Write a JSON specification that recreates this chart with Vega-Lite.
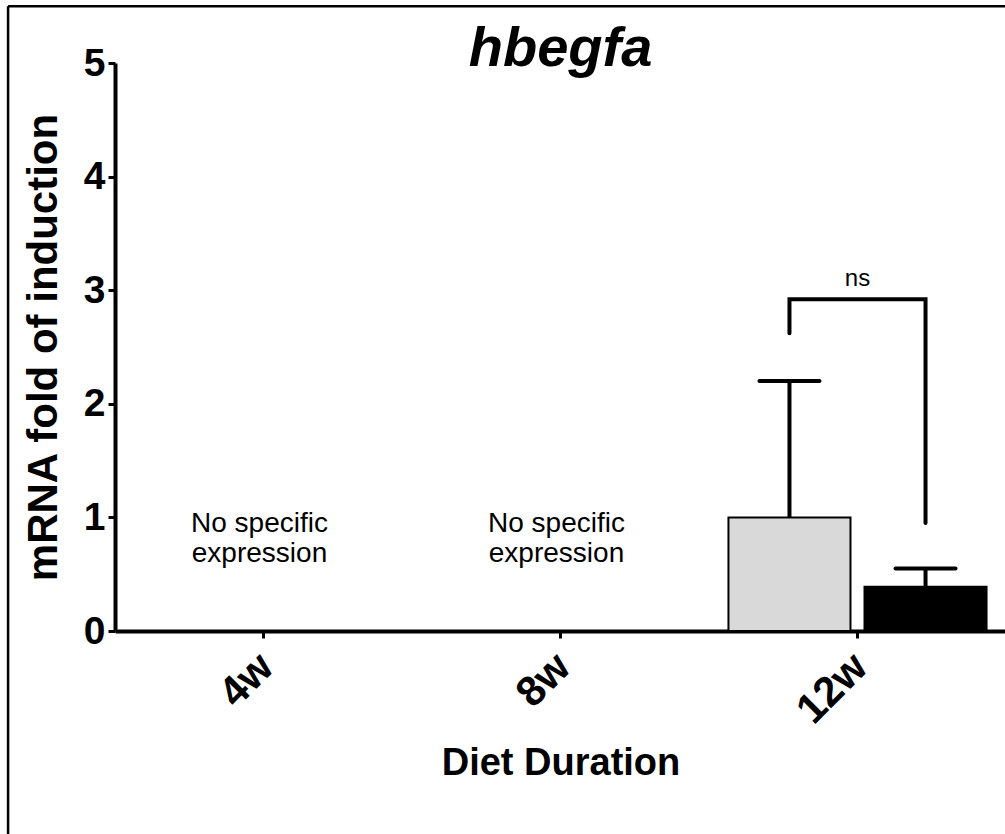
{
  "$schema": "https://vega.github.io/schema/vega-lite/v6.json",
  "autosize": "none",
  "width": 891,
  "height": 568,
  "padding": {"left": 115, "top": 63, "right": 0, "bottom": 203},
  "background": "white",
  "config": {
    "view": {"stroke": null},
    "font": "Liberation Sans"
  },
  "datasets": {
    "expr": [
      {"period": "12w", "group": "Control", "mean": 1.0, "upper": 2.2},
      {"period": "12w", "group": "HFD", "mean": 0.39, "upper": 0.55}
    ],
    "bracket": [
      {"period": "12w", "group": "Control", "level": 2.62, "step": 1},
      {"period": "12w", "group": "Control", "level": 2.92, "step": 2},
      {"period": "12w", "group": "HFD", "level": 2.92, "step": 3},
      {"period": "12w", "group": "HFD", "level": 0.95, "step": 4}
    ],
    "notes": [
      {"period": "4w", "note": "No specific\nexpression"},
      {"period": "8w", "note": "No specific\nexpression"}
    ],
    "stats": [
      {"period": "12w", "label": "ns"}
    ],
    "heading": [
      {"gene": "hbegfa"}
    ]
  },
  "resolve": {"scale": {"x": "independent"}, "axis": {"x": "independent"}},
  "layer": [
    {
      "encoding": {
        "x": {
          "field": "period",
          "type": "nominal",
          "scale": {"domain": ["4w", "8w", "12w"], "paddingInner": 0, "paddingOuter": 0},
          "axis": {
            "title": "Diet Duration",
            "titleFont": "Liberation Sans",
            "titleFontSize": 38,
            "titleFontWeight": "bold",
            "titleColor": "black",
            "titleBaseline": "top",
            "titleY": 113,
            "labelAngle": -45,
            "labelAlign": "right",
            "labelBaseline": "middle",
            "labelFont": "Liberation Sans",
            "labelFontSize": 42,
            "labelFontWeight": "bold",
            "labelColor": "black",
            "labelPadding": 22,
            "labelOffset": 3,
            "domainColor": "black",
            "domainWidth": 4,
            "tickColor": "black",
            "tickWidth": 3,
            "tickSize": 7,
            "grid": false
          }
        }
      },
      "layer": [
        {
          "data": {"name": "expr"},
          "mark": {"type": "bar", "stroke": "black", "strokeWidth": 2},
          "encoding": {
            "xOffset": {
              "field": "group",
              "type": "nominal",
              "scale": {"domain": ["Control", "HFD"], "paddingInner": 0.103, "paddingOuter": 0.143}
            },
            "y": {
              "field": "mean",
              "type": "quantitative",
              "scale": {"domain": [0, 5], "nice": false},
              "axis": {
                "title": "mRNA fold of induction",
                "titleFont": "Liberation Sans",
                "titleFontSize": 42,
                "titleFontWeight": "bold",
                "titleColor": "black",
                "titleAngle": -90,
                "titleAlign": "center",
                "titleBaseline": "alphabetic",
                "titleX": -59,
                "titleY": 284,
                "values": [0, 1, 2, 3, 4, 5],
                "format": "d",
                "labelFont": "Liberation Sans",
                "labelFontSize": 39,
                "labelFontWeight": "bold",
                "labelColor": "black",
                "labelPadding": 3,
                "labelBaseline": "middle",
                "domainColor": "black",
                "domainWidth": 4,
                "tickColor": "black",
                "tickWidth": 3,
                "tickSize": 7,
                "grid": false
              }
            },
            "fill": {
              "field": "group",
              "type": "nominal",
              "scale": {"domain": ["Control", "HFD"], "range": ["#d9d9d9", "#000000"]},
              "legend": null
            }
          }
        },
        {
          "data": {"name": "expr"},
          "mark": {"type": "rule", "color": "black", "strokeWidth": 4},
          "encoding": {
            "xOffset": {"field": "group", "type": "nominal"},
            "y": {"field": "mean", "type": "quantitative"},
            "y2": {"field": "upper"}
          }
        },
        {
          "data": {"name": "expr"},
          "mark": {"type": "tick", "color": "black", "size": 64, "thickness": 4, "cornerRadius": 2, "opacity": 1},
          "encoding": {
            "xOffset": {"field": "group", "type": "nominal"},
            "y": {"field": "upper", "type": "quantitative"}
          }
        },
        {
          "data": {"name": "bracket"},
          "mark": {"type": "line", "color": "black", "strokeWidth": 4, "strokeCap": "round", "strokeJoin": "miter"},
          "encoding": {
            "xOffset": {"field": "group", "type": "nominal"},
            "y": {"field": "level", "type": "quantitative"},
            "order": {"field": "step", "type": "quantitative"}
          }
        },
        {
          "data": {"name": "stats"},
          "mark": {"type": "text", "font": "Liberation Sans", "fontSize": 24, "color": "black", "align": "center", "baseline": "alphabetic"},
          "encoding": {
            "y": {"datum": 3.04, "type": "quantitative"},
            "text": {"field": "label"}
          }
        },
        {
          "data": {"name": "notes"},
          "mark": {"type": "text", "font": "Liberation Sans", "fontSize": 28, "lineHeight": 30, "lineBreak": "\n", "color": "black", "align": "center", "baseline": "middle", "dx": -4},
          "encoding": {
            "y": {"datum": 0.94, "type": "quantitative"},
            "text": {"field": "note"}
          }
        }
      ]
    },
    {
      "data": {"name": "heading"},
      "mark": {"type": "text", "font": "Liberation Sans", "fontSize": 56, "fontWeight": "bold", "fontStyle": "italic", "color": "black", "align": "center", "baseline": "alphabetic"},
      "encoding": {
        "y": {"datum": 4.97, "type": "quantitative"},
        "text": {"field": "gene"}
      }
    },
    {
      "data": {"values": [{}]},
      "layer": [
        {
          "mark": {"type": "rule", "color": "black", "strokeWidth": 2.5},
          "encoding": {
            "x": {"datum": -0.36, "type": "quantitative", "scale": {"domain": [0, 3], "nice": false, "zero": false}, "axis": null},
            "x2": {"datum": 3.1},
            "y": {"datum": 5.5, "type": "quantitative"}
          }
        },
        {
          "mark": {"type": "rule", "color": "black", "strokeWidth": 2.5},
          "encoding": {
            "x": {"datum": -0.36, "type": "quantitative", "axis": null},
            "y": {"datum": 5.5, "type": "quantitative"},
            "y2": {"datum": -1.8}
          }
        }
      ]
    }
  ]
}
